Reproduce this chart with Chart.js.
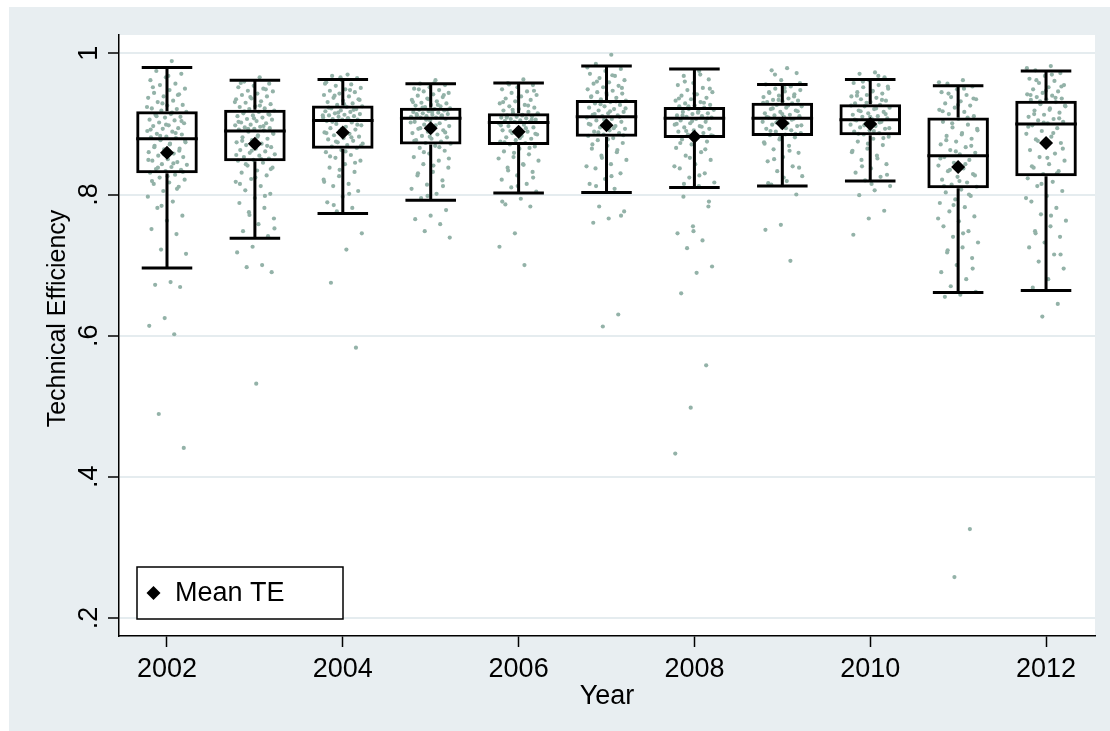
<!DOCTYPE html>
<html lang="en">
<head>
<meta charset="UTF-8">
<title>Technical Efficiency by Year</title>
<style>
  html, body { margin: 0; padding: 0; background: #fff; }
  #wrap { width: 1110px; height: 731px; }
</style>
<script src="https://cdn.jsdelivr.net/npm/chart.js"></script>
</head>
<body>
<div id="wrap"><canvas id="teChart"></canvas></div>
<script>
// box plot summary per year
const years = [2002, 2003, 2004, 2005, 2006, 2007, 2008, 2009, 2010, 2011, 2012];
const whiskerLo = [0.696, 0.738, 0.773, 0.792, 0.802, 0.803, 0.810, 0.812, 0.819, 0.661, 0.664];
const q1 = [0.830, 0.847, 0.865, 0.871, 0.870, 0.882, 0.880, 0.883, 0.884, 0.809, 0.826];
const median = [0.879, 0.890, 0.905, 0.908, 0.902, 0.910, 0.908, 0.908, 0.906, 0.855, 0.900];
const q3 = [0.918, 0.920, 0.926, 0.923, 0.915, 0.934, 0.924, 0.930, 0.928, 0.909, 0.933];
const whiskerHi = [0.980, 0.962, 0.963, 0.957, 0.958, 0.982, 0.978, 0.956, 0.963, 0.954, 0.975];
const meanTE = [0.859, 0.872, 0.888, 0.894, 0.889, 0.898, 0.882, 0.901, 0.900, 0.839, 0.873];

// firm-level efficiency scores (estimated from the dot cloud)
const te2002 = [0.989, 0.975, 0.971, 0.966, 0.962, 0.957, 0.955, 0.950, 0.948, 0.944, 0.942, 0.939, 0.937, 0.933, 0.931, 0.927, 0.926, 0.922, 0.921, 0.919,
  0.917, 0.914, 0.913, 0.910, 0.909, 0.906, 0.905, 0.902, 0.901, 0.898, 0.897, 0.894, 0.893, 0.890, 0.889, 0.886, 0.885, 0.882, 0.881, 0.880,
  0.877, 0.874, 0.872, 0.869, 0.865, 0.864, 0.860, 0.858, 0.855, 0.853, 0.850, 0.848, 0.846, 0.843, 0.842, 0.839, 0.836, 0.835, 0.833, 0.831,
  0.828, 0.824, 0.821, 0.817, 0.815, 0.811, 0.805, 0.797, 0.790, 0.781, 0.770, 0.763, 0.751, 0.744, 0.722, 0.716, 0.676, 0.672, 0.669, 0.625, 0.614, 0.602, 0.489, 0.441,
  0.968, 0.952, 0.941, 0.929, 0.924, 0.916, 0.911, 0.904, 0.899, 0.892, 0.887, 0.883, 0.876, 0.871, 0.867, 0.862, 0.857, 0.849, 0.844, 0.838, 0.832, 0.826, 0.819, 0.808, 0.784];
const te2003 = [0.966, 0.960, 0.957, 0.954, 0.952, 0.950, 0.947, 0.946, 0.943, 0.941, 0.939, 0.936, 0.935, 0.932, 0.930, 0.928, 0.925, 0.924, 0.922, 0.921,
  0.919, 0.917, 0.915, 0.914, 0.912, 0.911, 0.909, 0.907, 0.906, 0.904, 0.902, 0.901, 0.899, 0.898, 0.896, 0.895, 0.894, 0.893, 0.892, 0.891,
  0.889, 0.886, 0.884, 0.881, 0.879, 0.877, 0.874, 0.872, 0.870, 0.867, 0.865, 0.863, 0.861, 0.859, 0.857, 0.855, 0.853, 0.851, 0.849, 0.848,
  0.845, 0.841, 0.838, 0.834, 0.831, 0.827, 0.822, 0.818, 0.812, 0.806, 0.801, 0.795, 0.788, 0.781, 0.775, 0.766, 0.758, 0.748, 0.741, 0.726, 0.718, 0.700, 0.697, 0.690, 0.532,
  0.958, 0.949, 0.938, 0.931, 0.926, 0.918, 0.913, 0.908, 0.903, 0.897, 0.893, 0.887, 0.882, 0.876, 0.869, 0.862, 0.856, 0.850, 0.843, 0.836, 0.824, 0.815, 0.798, 0.771, 0.752];
const te2004 = [0.970, 0.968, 0.965, 0.962, 0.959, 0.956, 0.954, 0.951, 0.949, 0.947, 0.945, 0.943, 0.941, 0.939, 0.937, 0.935, 0.933, 0.931, 0.929, 0.927,
  0.925, 0.924, 0.922, 0.921, 0.919, 0.918, 0.917, 0.915, 0.914, 0.913, 0.912, 0.911, 0.910, 0.909, 0.908, 0.907, 0.906, 0.906,
  0.904, 0.902, 0.900, 0.898, 0.896, 0.894, 0.892, 0.890, 0.888, 0.886, 0.884, 0.882, 0.880, 0.878, 0.876, 0.874, 0.872, 0.870, 0.868, 0.866,
  0.863, 0.860, 0.856, 0.852, 0.848, 0.843, 0.838, 0.832, 0.826, 0.821, 0.815, 0.812, 0.805, 0.797, 0.789, 0.781, 0.776, 0.745, 0.722, 0.675, 0.583,
  0.966, 0.957, 0.948, 0.940, 0.934, 0.928, 0.923, 0.920, 0.916, 0.912, 0.908, 0.903, 0.899, 0.893, 0.887, 0.881, 0.875, 0.869, 0.861, 0.854, 0.845, 0.835, 0.818, 0.801, 0.785];
const te2005 = [0.962, 0.957, 0.955, 0.952, 0.950, 0.948, 0.946, 0.944, 0.942, 0.940, 0.938, 0.936, 0.934, 0.932, 0.930, 0.929, 0.927, 0.926, 0.925, 0.924,
  0.922, 0.921, 0.920, 0.919, 0.918, 0.917, 0.916, 0.915, 0.914, 0.913, 0.912, 0.912, 0.911, 0.910, 0.909, 0.909,
  0.907, 0.905, 0.903, 0.901, 0.899, 0.897, 0.895, 0.893, 0.891, 0.889, 0.887, 0.885, 0.883, 0.881, 0.879, 0.877, 0.875, 0.873, 0.872,
  0.869, 0.866, 0.862, 0.858, 0.853, 0.848, 0.843, 0.838, 0.832, 0.827, 0.820, 0.814, 0.808, 0.801, 0.795, 0.778, 0.770, 0.765, 0.758, 0.748, 0.739,
  0.958, 0.949, 0.941, 0.935, 0.931, 0.927, 0.923, 0.920, 0.917, 0.914, 0.911, 0.906, 0.902, 0.898, 0.894, 0.888, 0.882, 0.876, 0.867, 0.860, 0.851, 0.841, 0.830, 0.812, 0.798];
const te2006 = [0.963, 0.958, 0.955, 0.952, 0.949, 0.946, 0.944, 0.941, 0.939, 0.936, 0.934, 0.932, 0.929, 0.927, 0.925, 0.923, 0.921, 0.919, 0.917, 0.916,
  0.914, 0.913, 0.912, 0.911, 0.910, 0.909, 0.908, 0.907, 0.906, 0.905, 0.904, 0.903, 0.903,
  0.901, 0.899, 0.897, 0.895, 0.893, 0.891, 0.889, 0.887, 0.885, 0.883, 0.881, 0.879, 0.877, 0.875, 0.873, 0.871,
  0.868, 0.865, 0.861, 0.857, 0.853, 0.848, 0.843, 0.838, 0.832, 0.827, 0.821, 0.815, 0.810, 0.804, 0.794, 0.786, 0.783, 0.745, 0.726, 0.700,
  0.956, 0.947, 0.938, 0.931, 0.926, 0.920, 0.915, 0.912, 0.909, 0.906, 0.902, 0.898, 0.894, 0.890, 0.886, 0.880, 0.874, 0.866, 0.859, 0.851, 0.842, 0.834, 0.824, 0.812, 0.790];
const te2007 = [0.998, 0.985, 0.978, 0.975, 0.971, 0.968, 0.965, 0.962, 0.959, 0.957, 0.954, 0.952, 0.949, 0.947, 0.945, 0.943, 0.941, 0.939, 0.937, 0.935,
  0.933, 0.931, 0.929, 0.927, 0.925, 0.923, 0.921, 0.919, 0.917, 0.915, 0.913, 0.912, 0.911,
  0.909, 0.907, 0.905, 0.903, 0.901, 0.899, 0.897, 0.895, 0.893, 0.891, 0.889, 0.887, 0.885, 0.883,
  0.880, 0.877, 0.873, 0.869, 0.865, 0.860, 0.855, 0.849, 0.843, 0.837, 0.830, 0.822, 0.815, 0.808, 0.783, 0.776, 0.766, 0.760, 0.630, 0.613,
  0.980, 0.969, 0.960, 0.951, 0.944, 0.938, 0.932, 0.928, 0.922, 0.918, 0.914, 0.910, 0.906, 0.900, 0.894, 0.888, 0.884, 0.878, 0.871, 0.863, 0.852, 0.840, 0.826, 0.812, 0.770];
const te2008 = [0.975, 0.968, 0.963, 0.958, 0.955, 0.951, 0.948, 0.945, 0.942, 0.940, 0.937, 0.935, 0.933, 0.931, 0.929, 0.927, 0.926, 0.925,
  0.923, 0.921, 0.920, 0.918, 0.917, 0.915, 0.914, 0.912, 0.911, 0.910, 0.909,
  0.907, 0.905, 0.903, 0.901, 0.899, 0.897, 0.895, 0.893, 0.891, 0.889, 0.887, 0.885, 0.883, 0.881,
  0.878, 0.875, 0.871, 0.866, 0.860, 0.855, 0.849, 0.843, 0.837, 0.830, 0.824, 0.817, 0.812, 0.797, 0.783, 0.755, 0.745, 0.735, 0.724, 0.698, 0.689, 0.660, 0.558, 0.498, 0.433,
  0.970, 0.960, 0.950, 0.943, 0.936, 0.930, 0.925, 0.921, 0.916, 0.912, 0.908, 0.904, 0.900, 0.896, 0.890, 0.884, 0.879, 0.873, 0.864, 0.852, 0.840, 0.827, 0.815, 0.790, 0.748];
const te2009 = [0.979, 0.976, 0.972, 0.962, 0.956, 0.953, 0.950, 0.948, 0.946, 0.944, 0.942, 0.940, 0.938, 0.936, 0.934, 0.933, 0.932, 0.931,
  0.929, 0.927, 0.925, 0.923, 0.921, 0.919, 0.917, 0.915, 0.913, 0.912, 0.911, 0.910, 0.909,
  0.907, 0.905, 0.903, 0.901, 0.899, 0.897, 0.895, 0.893, 0.891, 0.889, 0.887, 0.885, 0.884,
  0.881, 0.878, 0.874, 0.869, 0.864, 0.859, 0.853, 0.847, 0.840, 0.833, 0.826, 0.819, 0.814, 0.800, 0.757, 0.750, 0.706,
  0.970, 0.958, 0.951, 0.945, 0.939, 0.934, 0.930, 0.926, 0.922, 0.918, 0.914, 0.910, 0.906, 0.902, 0.898, 0.894, 0.890, 0.886, 0.880, 0.872, 0.862, 0.850, 0.838, 0.824, 0.816];
const te2010 = [0.973, 0.971, 0.966, 0.962, 0.958, 0.955, 0.952, 0.950, 0.947, 0.945, 0.943, 0.941, 0.939, 0.937, 0.935, 0.933, 0.931, 0.929,
  0.927, 0.925, 0.923, 0.921, 0.919, 0.917, 0.915, 0.913, 0.911, 0.910, 0.908, 0.907,
  0.905, 0.903, 0.901, 0.899, 0.897, 0.895, 0.893, 0.891, 0.889, 0.887, 0.885,
  0.882, 0.879, 0.875, 0.870, 0.865, 0.860, 0.855, 0.849, 0.843, 0.837, 0.831, 0.825, 0.820, 0.812, 0.806, 0.799, 0.777, 0.766, 0.743,
  0.968, 0.960, 0.953, 0.946, 0.940, 0.934, 0.930, 0.926, 0.922, 0.918, 0.914, 0.910, 0.906, 0.902, 0.898, 0.894, 0.890, 0.886, 0.880, 0.872, 0.862, 0.851, 0.840, 0.828, 0.815];
const te2011 = [0.962, 0.957, 0.953, 0.949, 0.945, 0.941, 0.938, 0.935, 0.932, 0.929, 0.926, 0.923, 0.920, 0.917, 0.914, 0.911,
  0.907, 0.903, 0.899, 0.895, 0.891, 0.887, 0.883, 0.879, 0.875, 0.871, 0.867, 0.863, 0.859, 0.857,
  0.853, 0.849, 0.845, 0.841, 0.837, 0.833, 0.829, 0.825, 0.821, 0.817, 0.814, 0.811,
  0.807, 0.803, 0.798, 0.793, 0.788, 0.782, 0.776, 0.769, 0.762, 0.755, 0.748, 0.740, 0.732, 0.725, 0.718, 0.710, 0.700, 0.690, 0.680, 0.670, 0.662, 0.658, 0.655, 0.326, 0.258,
  0.959, 0.950, 0.943, 0.936, 0.927, 0.918, 0.909, 0.901, 0.893, 0.885, 0.877, 0.869, 0.861, 0.851, 0.843, 0.835, 0.827, 0.819, 0.812, 0.800, 0.785, 0.766, 0.745, 0.721, 0.695];
const te2012 = [0.982, 0.976, 0.972, 0.968, 0.964, 0.961, 0.958, 0.955, 0.952, 0.949, 0.946, 0.944, 0.942, 0.940, 0.938, 0.936, 0.935, 0.934,
  0.931, 0.928, 0.925, 0.922, 0.919, 0.916, 0.913, 0.910, 0.907, 0.905, 0.903, 0.901,
  0.898, 0.894, 0.890, 0.886, 0.882, 0.878, 0.873, 0.868, 0.863, 0.858, 0.853, 0.848, 0.843, 0.838, 0.833, 0.829,
  0.823, 0.818, 0.812, 0.805, 0.798, 0.790, 0.781, 0.772, 0.763, 0.755, 0.748, 0.740, 0.732, 0.725, 0.715, 0.705, 0.695, 0.680, 0.668, 0.645, 0.627,
  0.979, 0.970, 0.962, 0.953, 0.947, 0.941, 0.937, 0.932, 0.926, 0.920, 0.914, 0.908, 0.902, 0.896, 0.887, 0.876, 0.865, 0.852, 0.840, 0.830, 0.815, 0.795, 0.770, 0.745, 0.715];
const scoresByYear = [te2002, te2003, te2004, te2005, te2006, te2007, te2008, te2009, te2010, te2011, te2012];

const xTicks = [2002, 2004, 2006, 2008, 2010, 2012];
const yTicks = [0.2, 0.4, 0.6, 0.8, 1.0];
const yTickLabels = ['.2', '.4', '.6', '.8', '1'];

const FONT = "'Liberation Sans', Arial, Helvetica, sans-serif";

// spread the dots sideways like Stata's jitter (deterministic, golden-ratio steps)
function jitter(i) {
  return (((i + 1) * 0.6180339887) % 1 - 0.5) * 0.46;
}

const dots = [];
scoresByYear.forEach((arr, k) => {
  arr.forEach((v, i) => dots.push({ x: years[k] + jitter(i), y: v }));
});

// background panel + plot region
const panelPlugin = {
  id: 'panel',
  beforeDraw(chart) {
    const { ctx, chartArea: a } = chart;
    ctx.save();
    ctx.fillStyle = '#ffffff';
    ctx.fillRect(0, 0, chart.width, chart.height);
    ctx.fillStyle = '#e8eef1';
    ctx.fillRect(9, 7, chart.width - 9, chart.height - 7);
    ctx.fillStyle = '#ffffff';
    ctx.fillRect(a.left, a.top, a.right - a.left, a.bottom - a.top);
    ctx.restore();
  }
};

// whiskers, caps and median lines, drawn right after the boxes
const whiskerPlugin = {
  id: 'whiskers',
  afterDatasetDraw(chart, args) {
    if (args.index !== 1) return;
    const { ctx, scales: { x, y } } = chart;
    const meta = chart.getDatasetMeta(1);
    ctx.save();
    ctx.strokeStyle = '#000';
    ctx.lineWidth = 3;
    ctx.lineCap = 'butt';
    years.forEach((yr, i) => {
      const cx = x.getPixelForValue(yr);
      const capL = x.getPixelForValue(yr - 0.2875);
      const capR = x.getPixelForValue(yr + 0.2875);
      const bar = meta.data[i];
      const half = bar.width / 2;
      ctx.beginPath();
      ctx.moveTo(cx, y.getPixelForValue(q3[i]));
      ctx.lineTo(cx, y.getPixelForValue(whiskerHi[i]));
      ctx.moveTo(cx, y.getPixelForValue(q1[i]));
      ctx.lineTo(cx, y.getPixelForValue(whiskerLo[i]));
      ctx.moveTo(capL, y.getPixelForValue(whiskerHi[i]));
      ctx.lineTo(capR, y.getPixelForValue(whiskerHi[i]));
      ctx.moveTo(capL, y.getPixelForValue(whiskerLo[i]));
      ctx.lineTo(capR, y.getPixelForValue(whiskerLo[i]));
      ctx.moveTo(cx - half, y.getPixelForValue(median[i]));
      ctx.lineTo(cx + half, y.getPixelForValue(median[i]));
      ctx.stroke();
    });
    ctx.restore();
  }
};

// rotated y tick labels, y title and the inset legend
const textPlugin = {
  id: 'textBits',
  afterDraw(chart) {
    const { ctx, chartArea: a, scales: { y } } = chart;
    ctx.save();
    ctx.fillStyle = '#000';
    ctx.font = '27px ' + FONT;
    ctx.textAlign = 'center';
    ctx.textBaseline = 'alphabetic';
    yTicks.forEach((v, i) => {
      ctx.save();
      ctx.translate(a.left - 22, y.getPixelForValue(v));
      ctx.rotate(-Math.PI / 2);
      ctx.fillText(yTickLabels[i], 0, 0);
      ctx.restore();
    });

    ctx.save();
    ctx.font = '25px ' + FONT;
    ctx.translate(65, (a.top + a.bottom) / 2 - 17);
    ctx.rotate(-Math.PI / 2);
    ctx.fillText('Technical Efficiency', 0, 0);
    ctx.restore();

    // legend box, lower left inside the plot
    const lx = a.left + 18, lw = 206, lh = 52;
    const ly = a.bottom - 17 - lh;
    ctx.fillStyle = '#fff';
    ctx.fillRect(lx, ly, lw, lh);
    ctx.strokeStyle = '#000';
    ctx.lineWidth = 1.5;
    ctx.strokeRect(lx, ly, lw, lh);
    const mx = lx + 16.5, my = ly + 26, r = 7;
    ctx.fillStyle = '#000';
    ctx.beginPath();
    ctx.moveTo(mx, my - r);
    ctx.lineTo(mx + r, my);
    ctx.lineTo(mx, my + r);
    ctx.lineTo(mx - r, my);
    ctx.closePath();
    ctx.fill();
    ctx.font = '27px ' + FONT;
    ctx.textAlign = 'left';
    ctx.textBaseline = 'middle';
    ctx.fillText(chart.data.datasets[2].label, lx + 38, my + 1);
    ctx.restore();
  }
};

new Chart(document.getElementById('teChart'), {
  type: 'bar',
  data: {
    datasets: [
      {
        type: 'scatter',
        label: 'TE',
        data: dots,
        pointRadius: 2.1,
        pointBackgroundColor: '#93b2a8',
        pointBorderWidth: 0,
        order: 3
      },
      {
        type: 'bar',
        label: 'IQR',
        data: years.map((yr, i) => ({ x: yr, y: [q1[i], q3[i]] })),
        backgroundColor: 'rgba(255,255,255,0)',
        borderColor: '#000',
        borderWidth: 3,
        borderSkipped: false,
        barPercentage: 0.7,
        categoryPercentage: 1.0,
        order: 2
      },
      {
        type: 'scatter',
        label: 'Mean TE',
        data: years.map((yr, i) => ({ x: yr, y: meanTE[i] })),
        pointStyle: 'rectRot',
        pointRadius: 7,
        pointBackgroundColor: '#000',
        pointBorderColor: '#000',
        pointBorderWidth: 0,
        order: 1
      }
    ]
  },
  options: {
    responsive: true,
    maintainAspectRatio: false,
    animation: false,
    layout: { padding: { left: 0, top: 35, right: 15, bottom: 0 } },
    plugins: {
      legend: { display: false },
      tooltip: { enabled: false }
    },
    scales: {
      x: {
        type: 'linear',
        min: 2001.454,
        max: 2012.557,
        offset: false,
        afterBuildTicks: s => { s.ticks = xTicks.map(v => ({ value: v })); },
        afterFit: s => { s.height = 95; },
        grid: { offset: false, drawOnChartArea: false, tickLength: 11, tickColor: '#000', tickWidth: 1.5 },
        border: { color: '#000', width: 1.5 },
        ticks: {
          color: '#000',
          font: { family: FONT, size: 27 },
          padding: 6,
          maxRotation: 0,
          autoSkip: false,
          callback: v => String(v)
        },
        title: {
          display: true,
          text: 'Year',
          color: '#000',
          font: { family: FONT, size: 27 },
          padding: { top: 0, bottom: 18 }
        }
      },
      y: {
        type: 'linear',
        min: 0.1745,
        max: 1.026,
        afterBuildTicks: s => { s.ticks = yTicks.map(v => ({ value: v })); },
        afterFit: s => { s.width = 119; },
        grid: { color: '#e5ecef', lineWidth: 2, tickLength: 11, tickColor: '#000', tickWidth: 1.5 },
        border: { color: '#000', width: 1.5 },
        ticks: { display: false }
      }
    }
  },
  plugins: [panelPlugin, whiskerPlugin, textPlugin]
});
</script>
</body>
</html>
